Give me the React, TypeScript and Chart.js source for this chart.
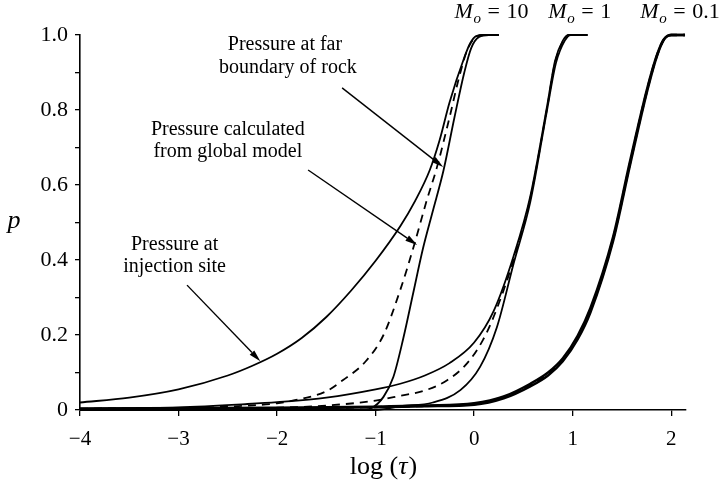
import React, { useEffect, useRef } from "react";
import { Chart, registerables } from "chart.js";

Chart.register(...registerables);

const FONT = "'Liberation Serif', 'Times New Roman', serif";

// axis ticks
const xTicks = [-4, -3, -2, -1, 0, 1, 2];
const xTickLabels = ["−4", "−3", "−2", "−1", "0", "1", "2"];
const yTicks = [0, 0.1, 0.2, 0.3, 0.4, 0.5, 0.6, 0.7, 0.8, 0.9, 1.0];
const yTickLabels = ["0", "", "0.2", "", "0.4", "", "0.6", "", "0.8", "", "1.0"];

// series: [log(tau), p]
// M_o = 10
const injection10: number[][] = [
  [-4, 0.02], [-3.5, 0.033], [-3, 0.055], [-2.5, 0.092], [-2.25, 0.118], [-2, 0.15],
  [-1.75, 0.192], [-1.5, 0.248], [-1.25, 0.318], [-1, 0.398], [-0.75, 0.49], [-0.6, 0.557],
  [-0.45, 0.64], [-0.35, 0.72], [-0.25, 0.82], [-0.1, 0.94], [-0.04, 0.978], [0.02, 0.997],
  [0.1, 1], [0.25, 1],
];
const globalModel10: number[][] = [
  [-4, 0.001], [-3, 0.004], [-2.5, 0.009], [-2, 0.018], [-1.75, 0.03], [-1.5, 0.05],
  [-1.33, 0.08], [-1.1, 0.13], [-0.92, 0.2], [-0.75, 0.32], [-0.62, 0.43], [-0.48, 0.56],
  [-0.38, 0.645], [-0.25, 0.78], [-0.15, 0.89], [-0.07, 0.96], [0.02, 0.995], [0.1, 1], [0.25, 1],
];
const farBoundary10: number[][] = [
  [-4, 0], [-1.15, 0], [-1.05, 0.004], [-0.92, 0.035], [-0.82, 0.088], [-0.72, 0.19],
  [-0.62, 0.31], [-0.52, 0.43], [-0.42, 0.53], [-0.31, 0.64], [-0.2, 0.78], [-0.1, 0.9],
  [-0.03, 0.965], [0.05, 0.995], [0.15, 1], [0.25, 1],
];
// M_o = 1
const injection1: number[][] = [
  [-4, 0.003], [-3, 0.007], [-2.3, 0.016], [-2, 0.021], [-1.5, 0.033], [-1, 0.055],
  [-0.75, 0.07], [-0.5, 0.092], [-0.25, 0.125], [0, 0.18], [0.2, 0.265], [0.4, 0.41],
  [0.57, 0.57], [0.74, 0.81], [0.82, 0.93], [0.9, 0.985], [0.96, 1], [1.15, 1],
];
const globalModel1: number[][] = [
  [-4, 0], [-2, 0.006], [-1.5, 0.012], [-1, 0.025], [-0.75, 0.038], [-0.5, 0.052],
  [-0.27, 0.08], [-0.07, 0.125], [0.09, 0.187], [0.2, 0.25], [0.4, 0.4], [0.57, 0.565],
  [0.74, 0.805], [0.82, 0.925], [0.9, 0.983], [0.96, 1], [1.15, 1],
];
const farBoundary1: number[][] = [
  [-4, 0], [-1.0, 0], [-0.75, 0.01], [-0.42, 0.02], [-0.14, 0.053], [0.06, 0.115],
  [0.23, 0.22], [0.4, 0.39], [0.57, 0.555], [0.74, 0.8], [0.83, 0.925], [0.92, 0.985],
  [0.98, 1], [1.15, 1],
];
// M_o = 0.1
const injection01: number[][] = [
  [-4, 0.004], [-2, 0.006], [-1, 0.009], [-0.5, 0.012], [0, 0.018], [0.3, 0.036],
  [0.57, 0.07], [0.75, 0.1], [0.9, 0.138], [1.05, 0.198], [1.18, 0.272], [1.41, 0.462],
  [1.58, 0.662], [1.76, 0.862], [1.86, 0.951], [1.93, 0.99], [2.0, 1], [2.14, 1],
];
const globalModel01: number[][] = [
  [-4, 0.003], [-2, 0.005], [-1, 0.008], [-0.5, 0.011], [0, 0.016], [0.3, 0.034],
  [0.57, 0.067], [0.75, 0.096], [0.9, 0.134], [1.05, 0.193], [1.18, 0.266], [1.41, 0.456],
  [1.58, 0.656], [1.76, 0.858], [1.86, 0.949], [1.93, 0.99], [2.0, 1], [2.14, 1],
];
const farBoundary01: number[][] = [
  [-4, 0.002], [-2, 0.004], [-1, 0.007], [-0.5, 0.01], [0, 0.014], [0.3, 0.031],
  [0.57, 0.063], [0.75, 0.092], [0.9, 0.13], [1.05, 0.188], [1.18, 0.26], [1.41, 0.45],
  [1.58, 0.65], [1.76, 0.854], [1.86, 0.947], [1.93, 0.989], [2.0, 1], [2.14, 1],
];

// annotations (data coordinates)
const annotationLines: { text: string; x: number; y: number }[] = [
  { text: "Pressure at far", x: -1.92, y: 0.96 },
  { text: "boundary of rock", x: -1.89, y: 0.898 },
  { text: "Pressure calculated", x: -2.5, y: 0.733 },
  { text: "from global model", x: -2.5, y: 0.675 },
  { text: "Pressure at", x: -3.04, y: 0.427 },
  { text: "injection site", x: -3.04, y: 0.368 },
];
const arrows: { from: number[]; to: number[] }[] = [
  { from: [-1.34, 0.859], to: [-0.315, 0.648] },
  { from: [-1.685, 0.64], to: [-0.579, 0.44] },
  { from: [-2.914, 0.333], to: [-2.17, 0.13] },
];
const moLabels: { value: string; x: number }[] = [
  { value: "10", x: -0.2 },
  { value: "1", x: 0.751 },
  { value: "0.1", x: 1.685 },
];
const moLabelY = 1.045;

const toPts = (arr: number[][]) => arr.map(([x, y]) => ({ x, y }));

const solid = (data: number[][], w = 1.8) => ({
  data: toPts(data),
  borderColor: "#000",
  borderWidth: w,
  pointRadius: 0,
  fill: false,
  cubicInterpolationMode: "monotone" as const,
  clip: 6,
});
const dashed = (data: number[][], w = 1.8) => ({
  ...solid(data, w),
  borderDash: [8, 6],
});

const annotationPlugin = {
  id: "annotations",
  afterDraw(chart: any) {
    const { ctx, chartArea, scales } = chart;
    const xs = scales.x;
    const ys = scales.y;
    const px = (v: number) => xs.getPixelForValue(v);
    const py = (v: number) => ys.getPixelForValue(v);
    ctx.save();
    ctx.fillStyle = "#000";
    ctx.strokeStyle = "#000";

    // annotation texts
    ctx.font = `20px ${FONT}`;
    ctx.textAlign = "center";
    ctx.textBaseline = "alphabetic";
    for (const a of annotationLines) ctx.fillText(a.text, px(a.x), py(a.y));

    // arrows
    ctx.lineWidth = 1.4;
    for (const a of arrows) {
      const x1 = px(a.from[0]), y1 = py(a.from[1]);
      const x2 = px(a.to[0]), y2 = py(a.to[1]);
      const ang = Math.atan2(y2 - y1, x2 - x1);
      const hl = 12, hw = 3.2;
      const bx = x2 - hl * Math.cos(ang), by = y2 - hl * Math.sin(ang);
      ctx.beginPath();
      ctx.moveTo(x1, y1);
      ctx.lineTo(bx, by);
      ctx.stroke();
      ctx.beginPath();
      ctx.moveTo(x2, y2);
      ctx.lineTo(bx + hw * Math.sin(ang), by - hw * Math.cos(ang));
      ctx.lineTo(bx - hw * Math.sin(ang), by + hw * Math.cos(ang));
      ctx.closePath();
      ctx.fill();
    }

    // M_o labels
    ctx.textAlign = "left";
    for (const m of moLabels) {
      const x0 = px(m.x), y0 = py(moLabelY);
      ctx.font = `italic 22px ${FONT}`;
      ctx.fillText("M", x0, y0);
      ctx.font = `italic 15px ${FONT}`;
      ctx.fillText("o", x0 + 19, y0 + 5);
      ctx.font = `22px ${FONT}`;
      ctx.fillText("=", x0 + 33, y0);
      ctx.fillText(m.value, x0 + 52, y0);
    }

    // axis titles
    const cx = (chartArea.left + chartArea.right) / 2;
    ctx.font = `26px ${FONT}`;
    const t1 = "log (";
    const t3 = ")";
    const w1 = ctx.measureText(t1).width;
    const w3 = ctx.measureText(t3).width;
    ctx.font = `italic 26px ${FONT}`;
    const w2 = ctx.measureText("τ").width;
    const sx = cx - (w1 + w2 + w3) / 2;
    const by = chartArea.bottom + 64;
    ctx.font = `26px ${FONT}`;
    ctx.fillText(t1, sx, by);
    ctx.font = `italic 26px ${FONT}`;
    ctx.fillText("τ", sx + w1, by);
    ctx.font = `26px ${FONT}`;
    ctx.fillText(t3, sx + w1 + w2 + 1, by);

    ctx.font = `italic 26px ${FONT}`;
    ctx.textAlign = "center";
    ctx.fillText("p", chartArea.left - 66, (chartArea.top + chartArea.bottom) / 2 + 5);
    ctx.restore();
  },
};

export default function App() {
  const ref = useRef<HTMLCanvasElement>(null);
  useEffect(() => {
    if (!ref.current) return;
    Chart.defaults.font.family = FONT;
    Chart.defaults.color = "#000";
    const chart = new Chart(ref.current, {
      type: "line",
      data: {
        datasets: [
          solid(injection10),
          dashed(globalModel10),
          solid(farBoundary10),
          solid(injection1),
          dashed(globalModel1),
          solid(farBoundary1),
          solid(injection01, 2.4),
          dashed(globalModel01, 2.4),
          solid(farBoundary01, 2.4),
        ] as any,
      },
      options: {
        animation: false,
        responsive: false,
        devicePixelRatio: 1,
        layout: { padding: { left: 0, right: 36, top: 35, bottom: 0 } },
        plugins: { legend: { display: false }, tooltip: { enabled: false }, title: { display: false } },
        scales: {
          x: {
            type: "linear",
            min: -4,
            max: 2.15,
            afterBuildTicks: (s: any) => { s.ticks = xTicks.map((v) => ({ value: v })); },
            afterFit: (s: any) => { s.height = 79; },
            ticks: {
              autoSkip: false,
              maxRotation: 0,
              padding: 11,
              font: { size: 21, family: FONT },
              color: "#000",
              callback: (_v: any, i: number) => xTickLabels[i],
            },
            grid: { drawOnChartArea: false, drawTicks: true, tickLength: 6, color: "#000", lineWidth: 1.3 },
            border: { display: true, color: "#000", width: 1.6 },
          },
          y: {
            type: "linear",
            min: 0,
            max: 1,
            afterBuildTicks: (s: any) => { s.ticks = yTicks.map((v) => ({ value: v })); },
            afterFit: (s: any) => { s.width = 80; },
            ticks: {
              autoSkip: false,
              padding: 7,
              font: { size: 22, family: FONT },
              color: "#000",
              callback: (_v: any, i: number) => yTickLabels[i],
            },
            grid: { drawOnChartArea: false, drawTicks: true, tickLength: 5, color: "#000", lineWidth: 1.3 },
            border: { display: true, color: "#000", width: 1.6 },
          },
        },
      },
      plugins: [annotationPlugin],
    });
    return () => chart.destroy();
  }, []);
  return (
    <div style={{ position: "fixed", left: 0, top: 0, width: 722, height: 489, background: "#fff" }}>
      <canvas ref={ref} width={722} height={489} style={{ display: "block" }} />
    </div>
  );
}
